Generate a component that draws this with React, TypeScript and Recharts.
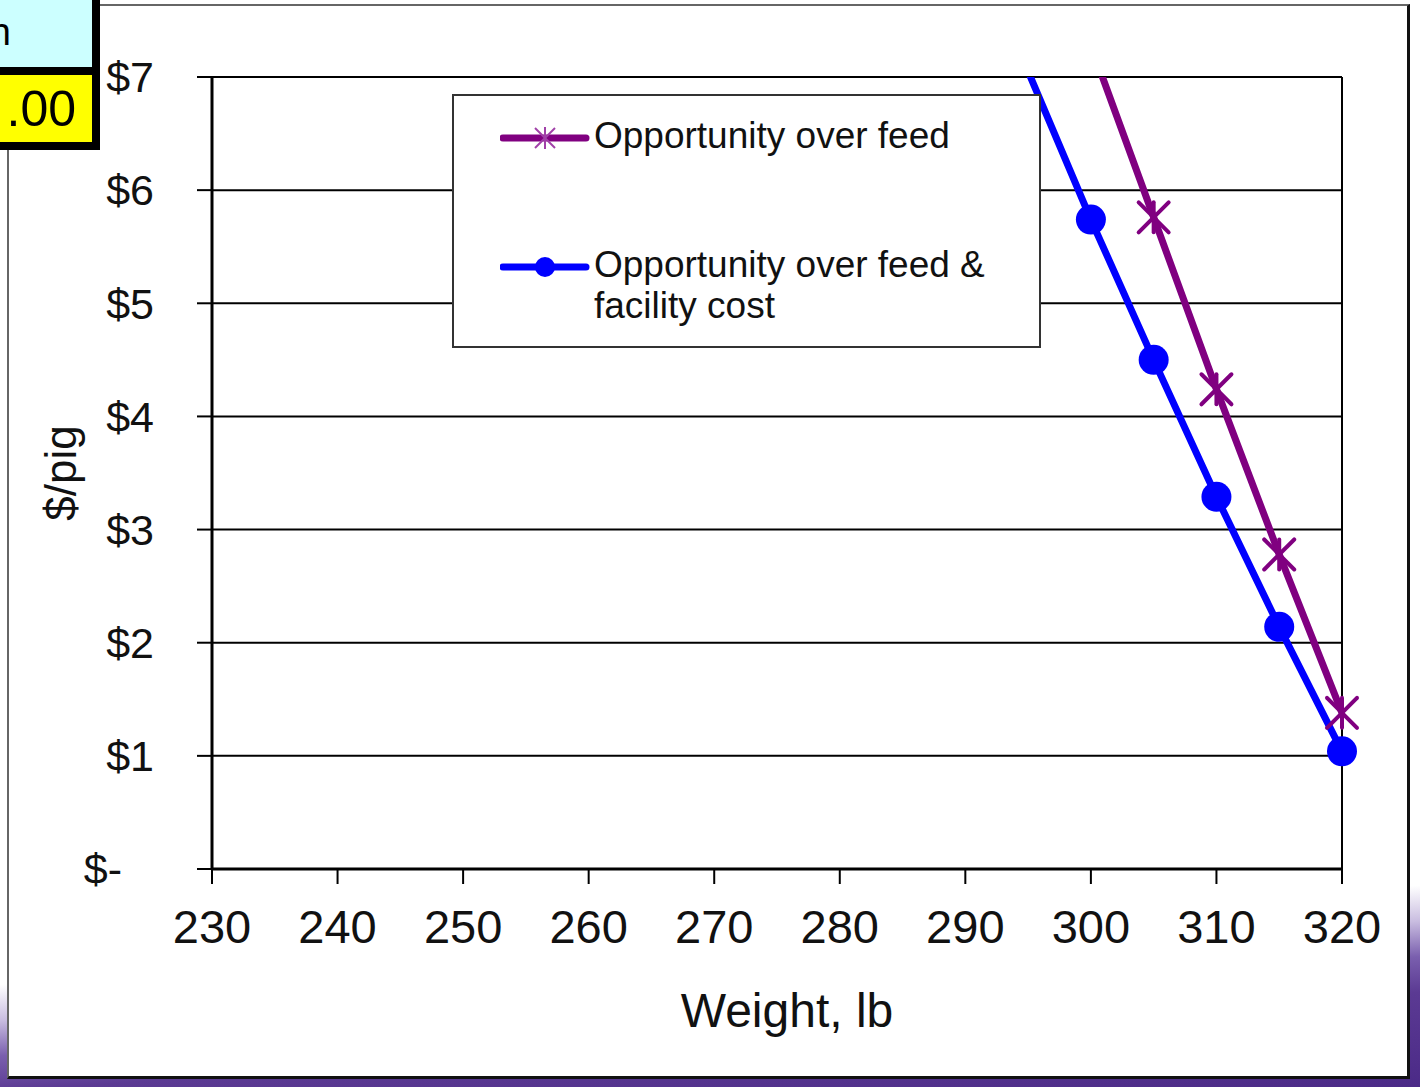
import { LineChart, Line, XAxis, YAxis, CartesianGrid, ReferenceLine } from "recharts";

// weight axis (lb) and dollar axis ticks
const weightTicks = [230, 240, 250, 260, 270, 280, 290, 300, 310, 320];
const dollarTicks = [0, 1, 2, 3, 4, 5, 6, 7];
const Y_MAX = 7;

// Opportunity over feed ($/pig)
const feedWeights = [300, 305, 310, 315, 320];
const feedValues = [7.28, 5.76, 4.24, 2.78, 1.38];

// Opportunity over feed & facility cost ($/pig)
const facilityWeights = [295, 300, 305, 310, 315, 320];
const facilityValues = [7.05, 5.74, 4.5, 3.29, 2.14, 1.04];

const PURPLE = "#800080";
const BLUE = "#0000ff";
const FONT = "'Liberation Sans', Arial, Helvetica, sans-serif";

const feedData = feedWeights.map((w, i) => ({ weight: w, value: feedValues[i] }));
const facilityData = facilityWeights.map((w, i) => ({ weight: w, value: facilityValues[i] }));
// markers only for points that sit inside the visible range
const feedMarks = feedData.filter((d) => d.value <= Y_MAX);
const facilityMarks = facilityData.filter((d) => d.value <= Y_MAX);

function StarDot(props: any) {
  const { cx, cy, index } = props;
  if (cx == null || cy == null) return <g key={`s-${index}`} />;
  const s = 15;
  return (
    <g key={`s-${index}`} stroke={PURPLE} strokeWidth={4} strokeLinecap="round">
      <line x1={cx - s} y1={cy - s} x2={cx + s} y2={cy + s} />
      <line x1={cx - s} y1={cy + s} x2={cx + s} y2={cy - s} />
      <line x1={cx} y1={cy - s} x2={cx} y2={cy + s} />
    </g>
  );
}

function CircleDot(props: any) {
  const { cx, cy, index } = props;
  if (cx == null || cy == null) return <g key={`c-${index}`} />;
  return <circle key={`c-${index}`} cx={cx} cy={cy} r={15} fill={BLUE} />;
}

function DollarTick({ x, y, payload }: any) {
  const v = payload.value;
  const label = v === 0 ? "$-" : `$${v}`;
  return (
    <text x={v === 0 ? x - 32 : x} y={y} dy="0.355em" textAnchor="end" fill="#111" fontSize={43} fontFamily={FONT}>
      {label}
    </text>
  );
}

function LegendBox() {
  return (
    <div
      style={{
        position: "absolute",
        left: 452,
        top: 94,
        width: 589,
        height: 254,
        boxSizing: "border-box",
        border: "2px solid #333",
        background: "#fff",
        fontFamily: FONT,
        fontSize: 37,
        color: "#111",
      }}
    >
      <svg width={90} height={40} style={{ position: "absolute", left: 46, top: 22 }}>
        <line x1={3} y1={20} x2={86} y2={20} stroke={PURPLE} strokeWidth={7} strokeLinecap="round" />
        <g stroke="#a040a8" strokeWidth={2}>
          <line x1={35} y1={10} x2={55} y2={30} />
          <line x1={35} y1={30} x2={55} y2={10} />
          <line x1={45} y1={9} x2={45} y2={31} />
        </g>
      </svg>
      <div style={{ position: "absolute", left: 140, top: 19, lineHeight: "42px", whiteSpace: "nowrap" }}>
        Opportunity over feed
      </div>
      <svg width={90} height={40} style={{ position: "absolute", left: 46, top: 151 }}>
        <line x1={3} y1={20} x2={86} y2={20} stroke={BLUE} strokeWidth={7} strokeLinecap="round" />
        <circle cx={45} cy={20} r={10} fill={BLUE} />
      </svg>
      <div style={{ position: "absolute", left: 140, top: 148, lineHeight: "41px", whiteSpace: "nowrap" }}>
        Opportunity over feed &amp;
        <br />
        facility cost
      </div>
    </div>
  );
}

export default function App() {
  return (
    <div
      style={{
        position: "absolute",
        left: 0,
        top: 0,
        width: 1420,
        height: 1087,
        overflow: "hidden",
        background:
          "linear-gradient(176deg, #ffffff 0%, #ffffff 83%, #c9bde0 86%, #7a5fae 89%, #5b3a93 92%, #4b2a87 100%)",
      }}
    >
      {/* slide frame around the chart */}
      <div
        style={{
          position: "absolute",
          left: 7,
          top: 4,
          width: 1403,
          height: 1075,
          boxSizing: "border-box",
          background: "#fff",
          borderTop: "2px solid #666",
          borderLeft: "2px solid #666",
          borderRight: "3px solid #111",
          borderBottom: "3px solid #111",
        }}
      />

      <div style={{ position: "absolute", left: 0, top: 0 }}>
        <LineChart width={1420} height={1087} margin={{ top: 77, right: 78, bottom: 58, left: 62 }}>
          <CartesianGrid yAxisId="left" vertical={false} stroke="#000" strokeWidth={2} />
          <XAxis
            type="number"
            dataKey="weight"
            domain={[230, 320]}
            ticks={weightTicks}
            interval={0}
            height={160}
            tickSize={15}
            tickMargin={26}
            axisLine={{ stroke: "#000", strokeWidth: 3 }}
            tickLine={{ stroke: "#000", strokeWidth: 2 }}
            tick={{ fill: "#111", fontSize: 47, fontFamily: FONT }}
            label={{
              value: "Weight, lb",
              content: ({ viewBox }: any) => (
                <text
                  x={viewBox.x + viewBox.width / 2 + 10}
                  y={viewBox.y + 158}
                  textAnchor="middle"
                  fill="#111"
                  fontSize={48}
                  fontFamily={FONT}
                >
                  Weight, lb
                </text>
              ),
            }}
          />
          <YAxis
            yAxisId="left"
            type="number"
            domain={[0, Y_MAX]}
            allowDataOverflow
            ticks={dollarTicks}
            interval={0}
            width={150}
            tickSize={15}
            tickMargin={43}
            axisLine={{ stroke: "#000", strokeWidth: 3 }}
            tickLine={{ stroke: "#000", strokeWidth: 2 }}
            tick={<DollarTick />}
            label={{
              value: "$/pig",
              content: ({ viewBox }: any) => (
                <text
                  x={viewBox.x - 2}
                  y={viewBox.y + viewBox.height / 2}
                  transform={`rotate(-90 ${viewBox.x - 2} ${viewBox.y + viewBox.height / 2})`}
                  textAnchor="middle"
                  dominantBaseline="central"
                  fill="#111"
                  fontSize={44}
                  fontFamily={FONT}
                >
                  $/pig
                </text>
              ),
            }}
          />
          <YAxis yAxisId="marks" hide type="number" domain={[0, Y_MAX]} ticks={dollarTicks} />
          <ReferenceLine yAxisId="left" x={320} stroke="#000" strokeWidth={2} />

          <Line
            yAxisId="left"
            data={feedData}
            dataKey="value"
            stroke={PURPLE}
            strokeWidth={7}
            dot={false}
            activeDot={false}
            isAnimationActive={false}
          />
          <Line
            yAxisId="left"
            data={facilityData}
            dataKey="value"
            stroke={BLUE}
            strokeWidth={7}
            dot={false}
            activeDot={false}
            isAnimationActive={false}
          />
          <Line
            yAxisId="marks"
            data={feedMarks}
            dataKey="value"
            stroke="none"
            dot={StarDot}
            activeDot={false}
            isAnimationActive={false}
          />
          <Line
            yAxisId="marks"
            data={facilityMarks}
            dataKey="value"
            stroke="none"
            dot={CircleDot}
            activeDot={false}
            isAnimationActive={false}
          />
        </LineChart>
      </div>

      <LegendBox />

      {/* label boxes in the corner */}
      <div
        style={{
          position: "absolute",
          left: -300,
          top: -20,
          width: 400,
          height: 95,
          boxSizing: "border-box",
          border: "8px solid #000",
          background: "#ccffff",
          fontFamily: FONT,
          fontSize: 38,
          color: "#000",
        }}
      >
        <div style={{ position: "absolute", right: 81, top: 22, lineHeight: "44px" }}>n</div>
      </div>
      <div
        style={{
          position: "absolute",
          left: -300,
          top: 67,
          width: 400,
          height: 83,
          boxSizing: "border-box",
          border: "8px solid #000",
          background: "#ffff00",
          fontFamily: FONT,
          fontSize: 50,
          color: "#000",
        }}
      >
        <div style={{ position: "absolute", right: 16, top: 4, lineHeight: "60px" }}>.00</div>
      </div>
    </div>
  );
}
